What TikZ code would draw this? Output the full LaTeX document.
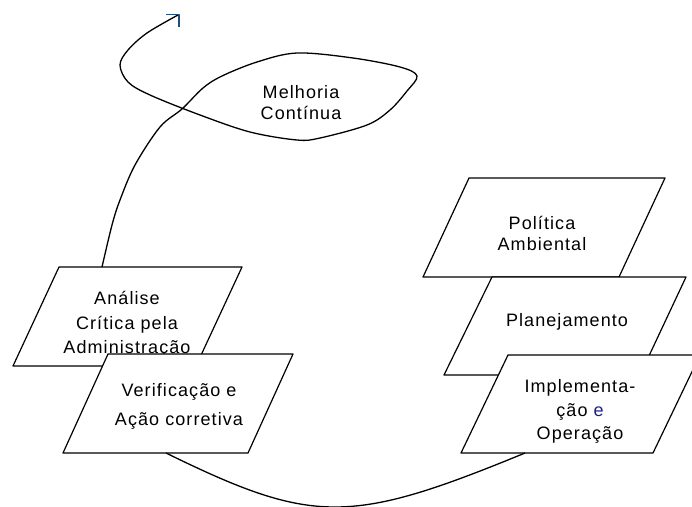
\documentclass[tikz,border=0pt]{standalone}
\usepackage{fontspec}
\setmainfont{Liberation Sans}[LetterSpace=6]
\definecolor{navyarrow}{RGB}{31,78,121}
\definecolor{navytext}{RGB}{30,30,140}
\begin{document}
\begin{tikzpicture}[x=1pt,y=-1pt,
  line width=1.3pt, line join=round,
  para/.style={draw=black, fill=white, line width=1.2pt},
  lbl/.style={align=center, font=\fontsize{18}{#1}\selectfont, inner sep=0pt, anchor=center},
  lbl/.default=21,
  flow/.style={draw=black, line width=1.3pt}]
\useasboundingbox (0,0) rectangle (692,506);

% left side boxes
\draw[para] (59,267) -- (242,267) -- (196,366) -- (13,366) -- cycle;
\coordinate (antop) at (102,267);
\node[lbl=24.5] (analise) at (127,324.5) {Análise\\Crítica pela\\Administração};

\draw[para] (108,354) -- (293,354) -- (248,453) -- (63,453) -- cycle;
\coordinate (verbot) at (166,453);
\node[lbl=29] (verif) at (179,406.5) {Verificação e\\Ação corretiva};

% right side boxes
\draw[para] (469,178) -- (665,178) -- (619,277) -- (423,277) -- cycle;
\node[lbl=21] (politica) at (542,233.5) {Política\\Ambiental};

\draw[para] (492,277) -- (686,277) -- (640,375) -- (444,375) -- cycle;
\node[lbl=21] (planej) at (567,322) {Planejamento};

\draw[para] (508,355) -- (700,355) -- (653,453) -- (461,453) -- cycle;
\coordinate (impbot) at (525,453);
\node[lbl=23.5] (implem) at (580,411.5) {Implementa-\\ção {\color{navytext}e}\\Operação};

% Melhoria continua label
\node[lbl=21] (melhoria) at (301,102.5) {Melhoria\\Contínua};

% bottom connector
\draw[flow] (verbot) .. controls (313,525) and (350,525) .. (impbot);

% top spiral connector
\coordinate (tip) at (178,15);
\draw[flow] plot[smooth, tension=0.55] coordinates {
 (antop) (112,225) (120,200) (135,165) (160,127) (182,109) (203,88) (222,76)
 (257,62) (297,53) (353,58) (400,67) (417,76) (407,91) (390,110) (367,125)
 (320,138) (297,140) (250,132) (200,115) (150,95) (128,82) (120,65) (128,50)
 (147,33) (tip)};
\draw[navyarrow, line width=1.3pt, line cap=butt] (166,14.5) -- (179,14.5) -- (179,27);
\end{tikzpicture}
\end{document}
